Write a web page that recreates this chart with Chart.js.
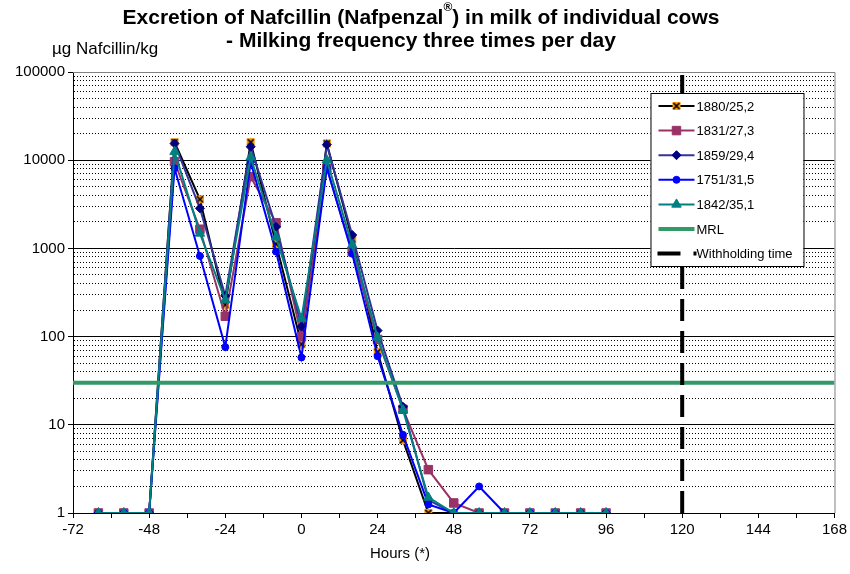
<!DOCTYPE html>
<html>
<head>
<meta charset="utf-8">
<script src="https://cdn.jsdelivr.net/npm/chart.js@4/dist/chart.umd.min.js"></script>
<style>
  html, body { margin: 0; padding: 0; background: #fff; }
  #wrap { width: 850px; height: 574px; }
</style>
</head>
<body>
<div id="wrap"><canvas id="c" width="850" height="574"></canvas></div>
<script>
// Sampling times (hours relative to the last treatment)
const hours = [-64, -56, -48, -40, -32, -24, -16, -8, 0, 8, 16, 24, 32, 40, 48, 56, 64, 72, 80, 88, 96];

// Nafcillin concentration in milk, µg/kg, one array per cow
const cow1880 = [1, 1, 1, 16000, 3600, 230, 16000, 1120, 82, 15500, 1270, 67, 6.7, 1, 1, 1, 1, 1, 1, 1, 1];
const cow1831 = [1, 1, 1, 9600, 1650, 170, 6500, 1950, 100, 8100, 920, 93, 15, 3.1, 1.3, 1, 1, 1, 1, 1, 1];
const cow1859 = [1, 1, 1, 15500, 2850, 290, 14200, 1750, 130, 15000, 1420, 117, 16, 1.4, 1, 1, 1, 1, 1, 1, 1];
const cow1751 = [1, 1, 1, 8100, 820, 76, 9500, 920, 58, 8200, 870, 60, 7.7, 1.25, 1, 2, 1, 1, 1, 1, 1];
const cow1842 = [1, 1, 1, 12500, 1480, 260, 10800, 1340, 160, 10000, 1090, 98, 14.7, 1.5, 1, 1, 1, 1, 1, 1, 1];

const cowLabels = ['1880/25,2', '1831/27,3', '1859/29,4', '1751/31,5', '1842/35,1'];

// Maximum residue limit and withholding time
const mrlValue = 30;
const withholdingHour = 120;

// Axis ranges and tick labels
const xMin = -72, xMax = 168, xTickStep = 12, xLabelStep = 24;
const yDecades = [1, 10, 100, 1000, 10000, 100000];

const FONT = "'Liberation Sans', Arial, Helvetica, sans-serif";

// Orange square with a black cross for the first cow
function crossSquare() {
  const c = document.createElement('canvas');
  c.width = 10; c.height = 10;
  const g = c.getContext('2d');
  g.fillStyle = '#FF9900';
  g.fillRect(1, 1, 8, 8);
  g.strokeStyle = '#000';
  g.lineWidth = 1.6;
  g.beginPath();
  g.moveTo(2, 2); g.lineTo(8, 8);
  g.moveTo(8, 2); g.lineTo(2, 8);
  g.stroke();
  return c;
}

const pts = arr => hours.map((h, i) => ({ x: h, y: arr[i] }));

const cowStyles = [
  { data: cow1880, line: '#000000', fill: '#FF9900', style: crossSquare(), radius: 5 },
  { data: cow1831, line: '#993366', fill: '#993366', style: 'rect', radius: 6 },
  { data: cow1859, line: '#333399', fill: '#000080', style: 'rectRot', radius: 4.5 },
  { data: cow1751, line: '#0000FF', fill: '#0000FF', style: 'circle', radius: 3.5 },
  { data: cow1842, line: '#008080', fill: '#008080', style: 'triangle', radius: 5.5 }
];

const datasets = cowStyles.map((s, i) => ({
  label: cowLabels[i],
  data: pts(s.data),
  borderColor: s.line,
  backgroundColor: s.fill,
  pointBackgroundColor: s.fill,
  pointBorderColor: s.fill,
  pointBorderWidth: 1,
  pointStyle: s.style,
  pointRadius: s.radius,
  borderWidth: 2,
  tension: 0,
  order: 6 - i
}));

datasets.push({
  label: 'MRL',
  data: [{ x: xMin, y: mrlValue }, { x: xMax, y: mrlValue }],
  borderColor: '#339966',
  borderWidth: 4,
  pointRadius: 0,
  order: 1
});

datasets.push({
  label: 'Withholding time',
  data: [{ x: withholdingHour, y: yDecades[0] }, { x: withholdingHour, y: yDecades[yDecades.length - 1] }],
  borderColor: '#000000',
  borderWidth: 4,
  borderDash: [22, 10],
  borderCapStyle: 'butt',
  pointRadius: 0,
  order: 0
});

const isDecade = v => yDecades.includes(v);

// Plot-area frame, titles and the boxed legend
const decorations = {
  id: 'decorations',
  beforeDatasetsDraw(chart) {
    const { ctx, chartArea: a } = chart;
    ctx.save();
    ctx.strokeStyle = '#808080';
    ctx.lineWidth = 1;
    ctx.beginPath();
    ctx.moveTo(a.left, a.top + 0.5);
    ctx.lineTo(a.right + 0.5, a.top + 0.5);
    ctx.lineTo(a.right + 0.5, a.bottom);
    ctx.stroke();
    ctx.restore();
  },
  afterDraw(chart) {
    const { ctx, chartArea: a } = chart;
    ctx.save();
    ctx.fillStyle = '#000';
    ctx.textBaseline = 'middle';

    // Title, with a raised registered sign
    const tf = 'bold 21px ' + FONT;
    const sf = 'bold 12px ' + FONT;
    const p1 = 'Excretion of Nafcillin (Nafpenzal', p2 = '\u00AE', p3 = ') in milk of individual cows';
    ctx.font = tf; const w1 = ctx.measureText(p1).width, w3 = ctx.measureText(p3).width;
    ctx.font = sf; const w2 = ctx.measureText(p2).width;
    const cx = 421;
    let x = cx - (w1 + w2 + w3) / 2;
    ctx.textAlign = 'left';
    ctx.font = tf; ctx.fillText(p1, x, 18); x += w1;
    ctx.font = sf; ctx.fillText(p2, x, 8); x += w2;
    ctx.font = tf; ctx.fillText(p3, x, 18);
    ctx.textAlign = 'center';
    ctx.fillText('- Milking frequency three times per day', cx, 41);

    // Unit label above the value axis
    ctx.textAlign = 'left';
    ctx.font = '17px ' + FONT;
    ctx.fillText('\u00B5g Nafcillin/kg', 52, 49);

    // Category axis title
    ctx.textAlign = 'center';
    ctx.font = '15px ' + FONT;
    ctx.fillText('Hours (*)', 400, 554);

    // Legend box
    const bw = 153, bh = 173;
    const bx = a.right - 184, by = a.top + 21;
    ctx.fillStyle = '#fff';
    ctx.fillRect(bx, by, bw, bh);
    ctx.strokeStyle = '#000';
    ctx.lineWidth = 1;
    ctx.strokeRect(bx + 0.5, by + 0.5, bw, bh);

    ctx.font = '13px ' + FONT;
    chart.data.datasets.forEach((ds, i) => {
      const y = by + 13 + i * 24.6;
      const x0 = bx + 8, x1 = bx + 44;
      ctx.save();
      ctx.strokeStyle = ds.borderColor;
      ctx.lineWidth = ds.borderWidth;
      if (ds.borderDash) {
        ctx.setLineDash([23, 13]);
        ctx.beginPath(); ctx.moveTo(x0 - 1, y); ctx.lineTo(x1 + 2, y); ctx.stroke();
      } else {
        ctx.beginPath(); ctx.moveTo(x0, y); ctx.lineTo(x1, y); ctx.stroke();
      }
      ctx.restore();
      if (ds.pointRadius > 0) {
        ctx.save();
        ctx.fillStyle = ds.pointBackgroundColor;
        ctx.strokeStyle = ds.pointBorderColor;
        ctx.lineWidth = ds.pointBorderWidth;
        Chart.helpers.drawPoint(ctx, { pointStyle: ds.pointStyle, radius: ds.pointRadius, rotation: 0, borderWidth: ds.pointBorderWidth }, (x0 + x1) / 2, y);
        ctx.restore();
      }
      ctx.fillStyle = '#000';
      ctx.textAlign = 'left';
      ctx.fillText(ds.label, bx + 46, y + 1);
    });
    ctx.restore();
  }
};

new Chart(document.getElementById('c'), {
  type: 'line',
  data: { datasets },
  plugins: [decorations],
  options: {
    responsive: false,
    animation: false,
    layout: { padding: { top: 72, right: 15, left: 0, bottom: 0 } },
    plugins: {
      legend: { display: false },
      title: { display: false },
      tooltip: { enabled: false }
    },
    scales: {
      x: {
        type: 'linear',
        min: xMin,
        max: xMax,
        afterFit: s => { s.height = 61; },
        ticks: {
          stepSize: xTickStep,
          autoSkip: false,
          maxRotation: 0,
          color: '#000',
          padding: 3,
          font: { family: FONT, size: 15 },
          callback: v => (v % xLabelStep === 0 ? String(v) : '')
        },
        grid: { drawOnChartArea: false, drawTicks: true, tickLength: 5, tickColor: '#000', tickWidth: 1 },
        border: { color: '#000', width: 1 }
      },
      y: {
        type: 'logarithmic',
        min: yDecades[0],
        max: yDecades[yDecades.length - 1],
        afterFit: s => { s.width = 73; },
        afterBuildTicks: s => {
          const ticks = [];
          yDecades.forEach((d, i) => {
            if (i === yDecades.length - 1) { ticks.push({ value: d }); return; }
            for (let m = 1; m <= 9; m++) ticks.push({ value: d * m });
          });
          s.ticks = ticks;
        },
        ticks: {
          autoSkip: false,
          color: '#000',
          padding: 3,
          font: { family: FONT, size: 15 },
          callback: v => (isDecade(v) ? String(v) : '')
        },
        grid: {
          color: c => (c.tick && c.tick.value === yDecades[yDecades.length - 1] ? '#808080' : '#000'),
          lineWidth: 1,
          tickLength: 5,
          tickColor: c => (c.tick && isDecade(c.tick.value) ? '#000' : 'rgba(0,0,0,0)')
        },
        border: {
          color: '#000',
          width: 1,
          dash: c => (c.tick && !isDecade(c.tick.value) ? [1, 2] : [])
        }
      }
    }
  }
});
</script>
</body>
</html>
